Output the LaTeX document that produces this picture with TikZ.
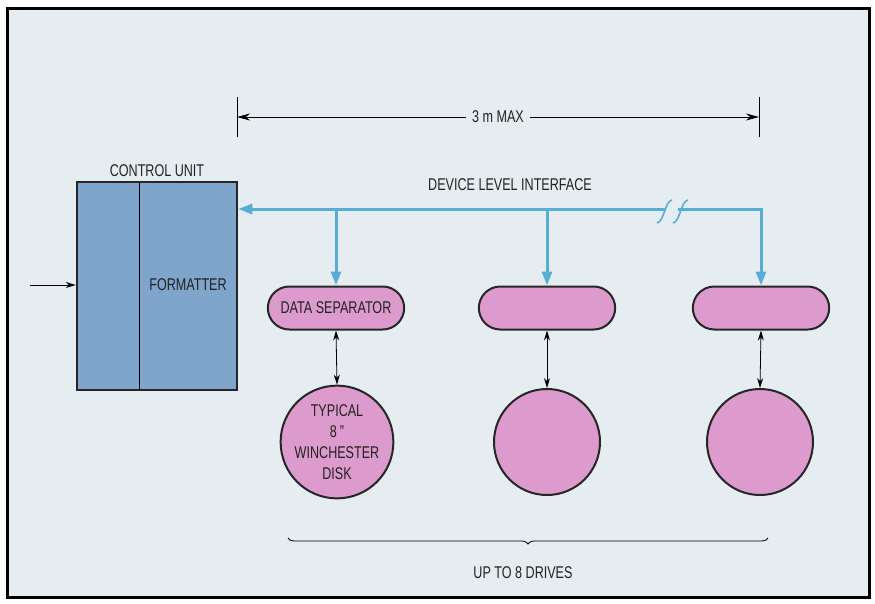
\documentclass[tikz,border=0pt]{standalone}
\usepackage{fontspec}
\setmainfont{Liberation Sans}[FakeStretch=0.74]
\usetikzlibrary{arrows.meta,positioning,shapes.misc,decorations.pathreplacing}
\definecolor{achtergrond}{HTML}{E5EDF1}
\definecolor{unitblauw}{HTML}{80A5CC}
\definecolor{roze}{HTML}{DC9ACD}
\definecolor{busblauw}{HTML}{58ADD5}
\definecolor{tekst}{HTML}{222222}
\tikzset{
  every node/.style={font=\fontsize{17}{21}\selectfont, text=tekst},
  unit/.style={draw=black!85, line width=2.5pt, fill=unitblauw, minimum width=160pt, minimum height=208pt},
  pill/.style={rounded rectangle, draw=black!85, line width=2pt, fill=roze, minimum width=143pt, minimum height=43pt},
  disk/.style={circle, draw=black!85, line width=2pt, fill=roze, minimum size=106pt, inner sep=0pt, align=center},
  bus/.style={busblauw, line width=3pt},
  bustip/.style={-{Triangle[length=14pt,width=10pt]}},
  dubbel/.style={{Stealth[length=10pt,width=6pt]}-{Stealth[length=10pt,width=6pt]}, line width=0.8pt},
  breuk/.style={busblauw, line width=1.6pt}
}
\begin{document}
\begin{tikzpicture}[x=1pt,y=-1pt]
    \useasboundingbox (0,0) rectangle (875,603);
    % Kader
    \draw[line width=3pt, fill=achtergrond] (7,8) rectangle (869,597);

    % Maatlijn
    \coordinate (ml) at (237,117);
    \coordinate (mr) at (759,117);
    \draw[line width=0.8pt] (237,97) -- (237,137);
    \draw[line width=0.8pt] (759,97) -- (759,137);
    \draw[line width=0.8pt, {Stealth[length=13pt,width=7pt]}-{Stealth[length=13pt,width=7pt]}] (ml) -- (mr)
        node[pos=0.5, fill=achtergrond, inner xsep=6pt] (maat) {3 m MAX};

    % Besturingseenheid
    \node[unit] (cu) at (157,286) {};
    \draw[line width=0.8pt] (139,182) -- (139,390);
    \node[above=1pt of cu] (cutitel) {CONTROL UNIT};
    \node (fmt) at (188,285) {FORMATTER};
    \coordinate (in) at (30,285);
    \draw[line width=0.8pt, -{Stealth[length=10pt,width=6pt]}] (in) -- (cu.west |- in);

    % Separators en schijven
    \node[pill] (sep1) at (336,308) {DATA SEPARATOR};
    \node[pill] (sep2) at (547,308) {};
    \node[pill] (sep3) at (761,308) {};
    \node[disk] (disk1) at (337,442) {TYPICAL\\8\,''\\WINCHESTER\\DISK};
    \node[disk] (disk2) at (547,442) {};
    \node[disk] (disk3) at (760,442) {};
    \foreach \i in {1,2,3}
        \draw[dubbel] (sep\i.south) -- (disk\i.north);

    % Interface
    \coordinate (busend) at (761,209);
    \coordinate (breukl) at (665,209);
    \coordinate (breukr) at (678,209);
    \node (dli) at (510,185) {DEVICE LEVEL INTERFACE};
    \draw[bus, bustip, line join=miter] (breukr) -- (busend) -- (sep3.north);
    \draw[bus, bustip] (breukl) -- (cu.east |- busend);
    \draw[bus, bustip] (sep1.north |- busend) -- (sep1.north);
    \draw[bus, bustip] (sep2.north |- busend) -- (sep2.north);
    \draw[breuk] (657,223) .. controls (664,222) and (665,201) .. (672,200);
    \draw[breuk] (673,223) .. controls (680,222) and (681,201) .. (688,200);

    % Accolade
    \draw[line width=0.8pt, decorate, decoration={brace, mirror, amplitude=6pt}] (288,538) -- (768,538);
    \node (drives) at (523,573) {UP TO 8 DRIVES};
\end{tikzpicture}
\end{document}
